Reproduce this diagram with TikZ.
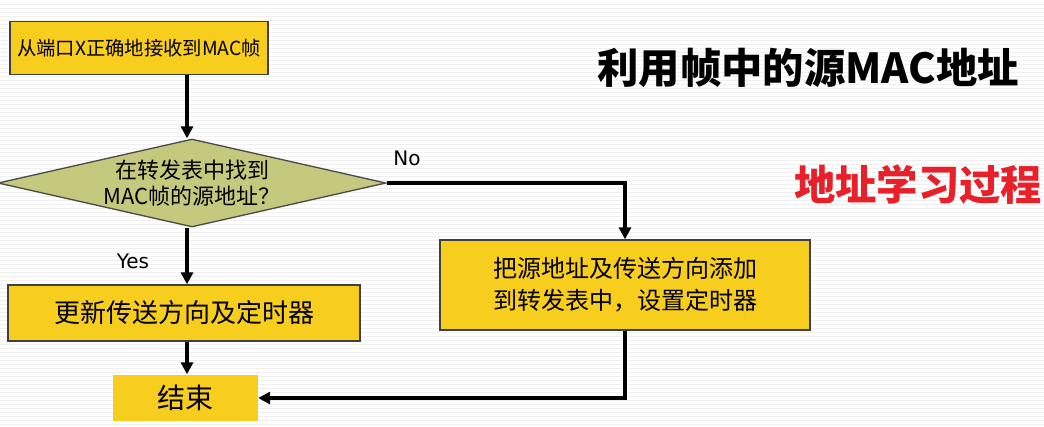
\documentclass[tikz,border=0pt]{standalone}
\usepackage{fontspec}
\newfontfamily\cjk{Noto Sans CJK SC}
\usetikzlibrary{shapes.geometric,arrows.meta}
\definecolor{yel}{HTML}{F7CD1E}
\definecolor{olive}{HTML}{C5C97E}
\definecolor{redt}{HTML}{E8202A}
\tikzset{
 box/.style={draw=black!75,line width=1pt,fill=yel,inner sep=0pt,font=\cjk\fontsize{18}{24}\selectfont,align=center},
 arr/.style={line width=2.4pt,-{Triangle[length=9pt,width=9pt]}},
 lbl/.style={font=\fontspec{DejaVu Sans}\fontsize{15}{17}\selectfont}
}
\begin{document}
\begin{tikzpicture}[x=0.75pt,y=-0.75pt]
\useasboundingbox[fill=white] (0,0) rectangle (1044,426);
\foreach \yy in {4,8,...,424}{\draw[black!6,line width=0.6pt] (0,\yy)--(1044,\yy);}
\node[box,font=\cjk\fontsize{14.5}{19}\selectfont,minimum width=258*0.75pt,minimum height=53*0.75pt] (start) at (139,48) {从端口X正确地接收到MAC帧};
\node[draw=black!70,line width=1pt,fill=olive,diamond,aspect=4.4,minimum width=388*0.75pt,minimum height=88*0.75pt,inner sep=-4pt,font=\cjk\fontsize{16.5}{19}\selectfont,align=center] (dec) at (192,183) {在转发表中找到\\MAC帧的源地址？};
\node[box,font=\cjk\fontsize{19.5}{24}\selectfont,minimum width=352*0.75pt,minimum height=56*0.75pt] (upd) at (184,313) {更新传送方向及定时器};
\node[box,minimum width=370*0.75pt,minimum height=90*0.75pt] (add) at (625,285) {把源地址及传送方向添加\\到转发表中，设置定时器};
\node[box,draw=none,font=\cjk\fontsize{21}{24}\selectfont,minimum width=145*0.75pt,minimum height=46*0.75pt] (end) at (185,398) {结束};
\coordinate (c1) at (625,183);
\coordinate (c2) at (625,398);
\draw[arr] (start.south -| 187,0) -- (dec.north -| 187,0);
\draw[arr] (dec.south -| 187,0) -- (upd.north -| 187,0);
\draw[arr] (upd.south -| 187,0) -- (end.north -| 187,0);
\draw[arr] (dec.east) -- (c1) -- (add.north);
\draw[arr] (add.south) -- (c2) -- (end.east);
\node[lbl] (no) at (407,158) {No};
\node[lbl] (yes) at (133,261) {Yes};
\node[font=\cjk\bfseries\fontsize{31}{36}\selectfont] (t1) at (808,68) {利用帧中的源MAC地址};
\node[font=\cjk\bfseries\fontsize{31}{36}\selectfont,text=redt] (t2) at (918,185) {地址学习过程};
\end{tikzpicture}
\end{document}
